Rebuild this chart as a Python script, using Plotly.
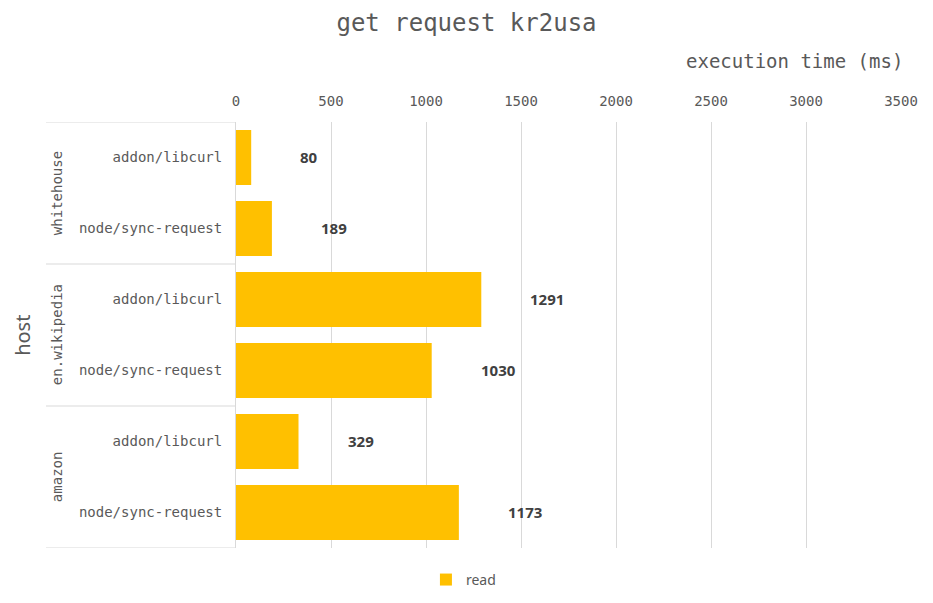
import plotly.graph_objects as go

hosts = ["whitehouse", "whitehouse", "en.wikipedia", "en.wikipedia", "amazon", "amazon"]
clients = ["addon/libcurl", "node/sync-request"] * 3
read_ms = [80, 189, 1291, 1030, 329, 1173]
group_names = ["whitehouse", "en.wikipedia", "amazon"]
x_ticks = [0, 500, 1000, 1500, 2000, 2500, 3000, 3500]

keys = [f"{h}|{c}" for h, c in zip(hosts, clients)]

GREY = "#595959"
MONO = "DejaVu Sans Mono"
SANS = "Noto Sans"

fig = go.Figure()
fig.add_trace(go.Bar(
    x=read_ms, y=keys, orientation="h", name="read",
    marker=dict(color="#FFC000", line=dict(width=0)),
    showlegend=True,
))

# data labels
for k, v in zip(keys, read_ms):
    fig.add_annotation(x=v, y=k, xref="x", yref="y", text=f"<b>{v}</b>",
                       showarrow=False, xanchor="left", xshift=47, yshift=1,
                       font=dict(family=SANS, size=15, color="#404040"))

# group labels and separators
n_per = 2
for i, g in enumerate(group_names):
    fig.add_annotation(x=-0.284, xref="paper", y=i * n_per + (n_per - 1) / 2, yref="y",
                       text=g, textangle=-90, showarrow=False,
                       font=dict(family=MONO, size=14, color=GREY))
for b in range(len(group_names) + 1):
    yb = b * n_per - 0.5
    fig.add_shape(type="line", xref="paper", yref="y", x0=-0.2857, x1=0, y0=yb, y1=yb,
                  line=dict(color="#d9d9d9", width=1))

# axis title (top-right)
fig.add_annotation(x=1.006, xref="paper", y=1.143, yref="paper", text="execution time (ms)",
                   showarrow=False, xanchor="right", yanchor="middle",
                   font=dict(family=MONO, size=19, color=GREY))

# y axis title
fig.add_annotation(x=-0.322, xref="paper", y=0.5, yref="paper", text="host", textangle=-90,
                   showarrow=False, xanchor="center", yanchor="middle",
                   font=dict(family=SANS, size=20, color=GREY))

fig.update_layout(
    width=933, height=603,
    margin=dict(l=236, r=32, t=122, b=55, autoexpand=False),
    paper_bgcolor="white", plot_bgcolor="white",
    title=dict(text="get request kr2usa", x=0.5, xanchor="center", y=0.963, yanchor="middle",
               font=dict(family=MONO, size=24, color=GREY)),
    bargap=0.225,
    xaxis=dict(side="top", range=[0, 3500], tickvals=x_ticks, ticktext=[str(t) for t in x_ticks],
               showgrid=True, gridcolor="#d9d9d9", gridwidth=1, zeroline=False,
               showline=False, ticks="", tickfont=dict(family=MONO, size=14, color=GREY),
               ticklabelstandoff=12, tickangle=0, automargin=False, fixedrange=True),
    yaxis=dict(type="category", categoryorder="array", categoryarray=keys,
               range=[len(keys) - 0.5, -0.5], tickvals=keys, ticktext=clients,
               tickfont=dict(family=MONO, size=14, color=GREY), ticks="", ticklabelstandoff=10,
               showline=True, linecolor="#d9d9d9", linewidth=1, showgrid=False,
               automargin=False, fixedrange=True),
    legend=dict(orientation="h", x=0.342, xanchor="center",
                y=-0.075, yanchor="middle",
                font=dict(family=SANS, size=14, color=GREY)),
)

fig.write_html("out.html")
